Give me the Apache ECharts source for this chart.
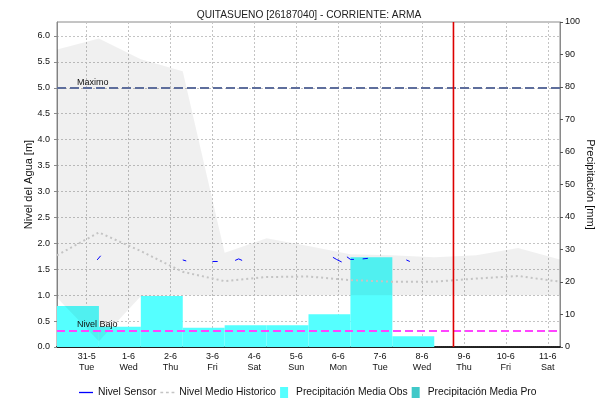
<!DOCTYPE html>
<html>
<head>
<meta charset="utf-8">
<script src="https://cdn.jsdelivr.net/npm/echarts@6/dist/echarts.min.js"></script>
<style>html,body{margin:0;padding:0;background:#fff}#c{width:600px;height:401px}</style>
</head>
<body>
<div id="c"></div>
<script>
// Time axis in hours relative to 31-5 00:00
const dayLabels = ['31-5','1-6','2-6','3-6','4-6','5-6','6-6','7-6','8-6','9-6','10-6','11-6'];
const weekdays = ['Tue','Wed','Thu','Fri','Sat','Sun','Mon','Tue','Wed','Thu','Fri','Sat'];
const dayTickHours = [0,24,48,72,96,120,144,168,192,216,240,264];
// daily values at 07:00 (30-5 ... 11-6)
const dailyHours = [-17,7,31,55,79,103,127,151,175,199,223,247,271];
const histMean  = [1.77,2.21,1.85,1.45,1.27,1.35,1.36,1.29,1.26,1.26,1.32,1.37,1.26];
const histMin   = [0.95,0.11,0.98,1.00,0.99,0.99,1.00,1.00,1.00,1.00,1.00,1.00,1.00];
const histMax   = [5.74,5.95,5.55,5.32,1.82,2.10,1.95,1.79,1.77,1.73,1.77,1.91,1.69];
// daily precipitation (07:00 to 07:00), mm
const precipStart = [-17,7,31,55,79,103,127,151,175];
const precipEnd   = [7,31,55,79,103,127,151,175,199];
const precipObs   = [12.6,6.2,15.7,5.9,6.7,6.7,10.1,27.6,3.3];
const precipPro   = [];
// sensor readings (null = gap)
const sensorHours  = [6,8,null,55,57,null,72,75,null,85,87,89,null,141,143,146,null,149,151,153,null,158,161,null,183,185];
const sensorLevels = [1.68,1.76,null,1.68,1.66,null,1.65,1.65,null,1.67,1.70,1.67,null,1.73,1.69,1.64,null,1.74,1.69,1.69,null,1.70,1.71,null,1.68,1.65];
const nivelMaximo = 5.0;
const nivelBajo = 0.32;
const nowHour = 210;
const axisMinHour = -17, axisMaxHour = 271;

const FONT = 'Liberation Sans, Arial, sans-serif';
const chart = echarts.init(document.getElementById('c'), null, {renderer:'canvas'});

const rectItem = (fill) => function (params, api) {
  const p0 = api.coord([api.value(0), api.value(2)]);
  const p1 = api.coord([api.value(1), 0]);
  return {type:'rect', shape:{x:p0[0], y:p0[1], width:p1[0]-p0[0], height:p1[1]-p0[1]}, style:{fill:fill}};
};

const bandItem = function (params, api) {
  if (params.dataIndex !== 0) return null;
  const pts = [];
  for (let i = 0; i < dailyHours.length; i++) pts.push(api.coord([dailyHours[i], histMax[i]]));
  for (let i = dailyHours.length - 1; i >= 0; i--) pts.push(api.coord([dailyHours[i], histMin[i]]));
  return {type:'polygon', shape:{points:pts}, style:{fill:'rgba(0,0,0,0.059)'}};
};

const nowItem = function (params, api) {
  const cs = params.coordSys;
  const x = api.coord([api.value(0), 0])[0];
  return {type:'line', shape:{x1:x, y1:cs.y, x2:x, y2:cs.y + cs.height},
    style:{stroke:'#dd0000', lineWidth:1.6}};
};

const gridLine = {show:true, lineStyle:{color:'#c4c4c4', type:[2,2], width:1}};
const lineIcon = 'path://M0,0h15v1.4h-15z';
const dotIcon = 'path://M0,0h3v1.6h-3zM6,0h3v1.6h-3zM12,0h3v1.6h-3z';
const boxIcon = 'path://M0,0h8v11h-8z';

chart.setOption({
  animation:false,
  backgroundColor:'#fff',
  textStyle:{fontFamily:FONT},
  title:{text:'QUITASUENO [26187040] - CORRIENTE: ARMA', left:304, top:5, textAlign:'center',
    textStyle:{fontSize:10.2, fontWeight:'normal', color:'#222', fontFamily:FONT}},
  grid:{left:57, right:40, top:22, bottom:54, show:true, borderColor:'#8a8a8a', borderWidth:1,
    backgroundColor:'transparent', containLabel:false, outerBoundsMode:'none'},
  legend:{
    bottom:3, left:79, padding:0, itemWidth:14, itemHeight:11, itemGap:4,
    textStyle:{fontSize:10.3, color:'#111', fontFamily:FONT},
    data:[
      {name:'Nivel Sensor', icon:lineIcon, itemStyle:{color:'#0000ff'}},
      {name:'Nivel Medio Historico', icon:dotIcon, itemStyle:{color:'#c4c4c4'}},
      {name:'Precipitación Media Obs', icon:boxIcon, itemStyle:{color:'#55ffff'}},
      {name:'Precipitación Media Pro', icon:boxIcon, itemStyle:{color:'#40c8c8'}}
    ]
  },
  xAxis:{
    type:'value', min:axisMinHour, max:axisMaxHour,
    axisLine:{show:true, onZero:false, lineStyle:{color:'#222', width:2, type:[1,1]}},
    axisTick:{show:false, customValues:dayTickHours},
    axisLabel:{customValues:dayTickHours, margin:4, fontSize:9, color:'#111', lineHeight:11, fontFamily:FONT,
      formatter:function(v){ const i = dayTickHours.indexOf(v); return i < 0 ? '' : dayLabels[i] + '\n' + weekdays[i]; }},
    splitLine:gridLine
  },
  yAxis:[
    {type:'value', min:0, max:6.27, interval:0.5, position:'left',
     name:'Nivel del Agua [m]', nameLocation:'middle', nameGap:23, nameRotate:90, nameMoveOverlap:false,
     nameTextStyle:{fontSize:11, color:'#111', fontFamily:FONT},
     axisLine:{show:true, onZero:false, lineStyle:{color:'#8a8a8a'}},
     axisTick:{show:true, length:3, lineStyle:{color:'#8a8a8a'}},
     axisLabel:{fontSize:9, color:'#111', margin:7, showMaxLabel:false, fontFamily:FONT,
       formatter:function(v){return v.toFixed(1);}},
     splitLine:gridLine},
    {type:'value', min:0, max:100, interval:10, position:'right',
     name:'Precipitación [mm]', nameLocation:'middle', nameGap:25, nameRotate:-90, nameMoveOverlap:false,
     nameTextStyle:{fontSize:11, color:'#111', fontFamily:FONT},
     axisLine:{show:true, onZero:false, lineStyle:{color:'#8a8a8a'}},
     axisTick:{show:true, length:3, lineStyle:{color:'#555'}},
     axisLabel:{fontSize:9, color:'#111', margin:5, fontFamily:FONT},
     splitLine:{show:false}}
  ],
  series:[
    {name:'Precipitación Media Obs', type:'custom', xAxisIndex:0, yAxisIndex:1, z:2,
     itemStyle:{color:'#55ffff'}, encode:{x:[0,1], y:2},
     renderItem:rectItem('#55ffff'),
     data:precipObs.map((v,i)=>[precipStart[i], precipEnd[i], v])},
    {name:'Precipitación Media Pro', type:'custom', xAxisIndex:0, yAxisIndex:1, z:2,
     itemStyle:{color:'#40c8c8'}, encode:{x:[0,1], y:2},
     renderItem:rectItem('#40c8c8'),
     data:precipPro},
    {name:'Rango Historico', type:'custom', xAxisIndex:0, yAxisIndex:0, z:3, silent:true,
     encode:{x:0, y:[1,2]}, renderItem:bandItem,
     data:dailyHours.map((h,i)=>[h, histMin[i], histMax[i]])},
    {name:'Nivel Medio Historico', type:'line', z:4, symbol:'none',
     itemStyle:{color:'#c4c4c4'},
     lineStyle:{color:'#c4c4c4', width:2, type:[2,3]},
     data:dailyHours.map((h,i)=>[h, histMean[i]])},
    {name:'Ahora', type:'custom', xAxisIndex:0, yAxisIndex:0, z:6, silent:true,
     encode:{x:0}, renderItem:nowItem, data:[[nowHour]]},
    {name:'Nivel Sensor', type:'line', z:5, symbol:'none', connectNulls:false,
     itemStyle:{color:'#0000ff'}, lineStyle:{color:'#0000ff', width:1},
     data:sensorHours.map((h,i)=>[h, sensorLevels[i]]),
     markLine:{symbol:['none','none'], silent:true, animation:false,
       data:[
         {yAxis:nivelMaximo, lineStyle:{color:'#5e6e9c', width:2, type:[9,4]},
          label:{show:true, formatter:'Maximo', position:'insideStartTop', distance:[20,1], color:'#111', fontSize:9, fontFamily:FONT}},
         {yAxis:nivelBajo, lineStyle:{color:'#ff44ff', width:2, type:[8,4]},
          label:{show:true, formatter:'Nivel Bajo', position:'insideStartTop', distance:[20,1], color:'#111', fontSize:9, fontFamily:FONT}}
       ]}}
  ]
});
</script>
</body>
</html>
